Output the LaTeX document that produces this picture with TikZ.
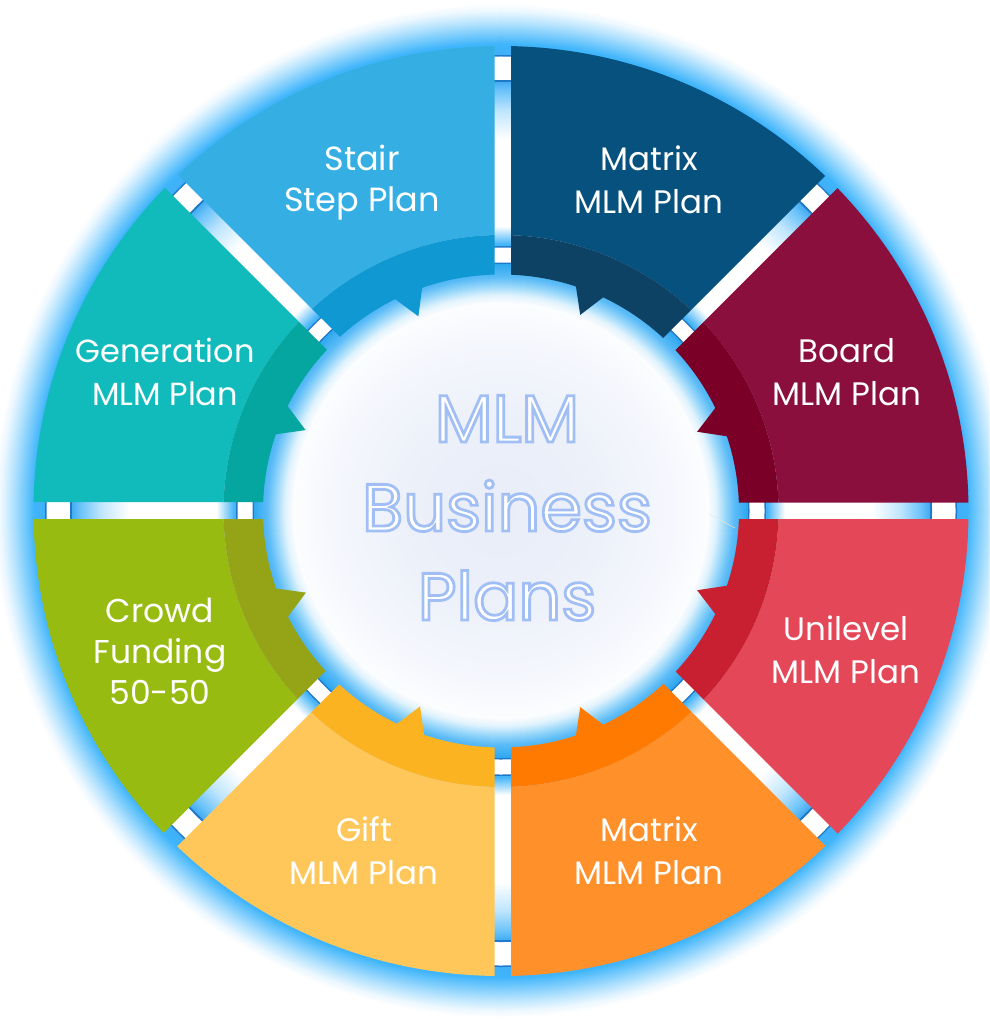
\documentclass[tikz,border=0pt]{standalone}
\usepackage{fontspec}
\setmainfont{Poppins}
\definecolor{gdark}{HTML}{2078C8}
\definecolor{g00}{HTML}{E9EDF8}\definecolor{g01}{HTML}{ECF0F9}\definecolor{g02}{HTML}{F5F7FD}
\definecolor{g03}{HTML}{FCFDFE}\definecolor{g04}{HTML}{E0F3FD}\definecolor{g05}{HTML}{9AD8FA}
\definecolor{g06}{HTML}{5CBCF7}\definecolor{g07}{HTML}{2EA8F0}\definecolor{g08}{HTML}{45B5F8}
\definecolor{g09}{HTML}{45ADF2}\definecolor{g10}{HTML}{6FC4FA}\definecolor{g11}{HTML}{C0E6FD}
\definecolor{g12}{HTML}{40B0F8}\definecolor{g13}{HTML}{3FB5FB}\definecolor{g14}{HTML}{7CCDFC}
\definecolor{g15}{HTML}{BDE6FE}\definecolor{g16}{HTML}{ECF8FF}
% one radial band, painted as discs from the outside in, a pixel at a time
\newcommand{\gradband}[4]{%
  \pgfmathtruncatemacro{\bandn}{max(1,#1-#2)}%
  \foreach \k in {0,...,\bandn}{%
    \pgfmathsetmacro{\bandr}{#1-\k*(#1-#2)/\bandn}%
    \pgfmathsetmacro{\bandp}{100*\k/\bandn}%
    \fill[#4!\bandp!#3] (501,511) circle[radius=\bandr];}}
\newcommand{\flatdisc}[2]{\fill[#2] (501,511) circle[radius=#1];}
\newcommand{\planseg}[4]{% wedge polygon, tooth angle (math), light, dark
  \begin{scope}
    \clip #1;
    \fill[#3,even odd rule] (501,511) ellipse[x radius=467.5,y radius=465] (501,511) ellipse[x radius=277.5,y radius=276];
    \fill[#4,even odd rule] (501,511) ellipse[x radius=277.5,y radius=276] (501,511) ellipse[x radius=238,y radius=236.5];
    \fill[#4,shift={(501,511)}] (-#2-3.7:238) -- (-#2:211.5) -- (-#2+3.7:238) -- (-#2+3.7:245) -- (-#2-3.7:245) -- cycle;
  \end{scope}}
\newcommand{\strokedtext}{\special{pdf:code 2 Tr 2.8 w 0.63 0.75 0.96 RG}}
\newcommand{\plainedtext}{\special{pdf:code 0 Tr}}
\tikzset{
  plantext/.style={text=white,align=center,inner sep=0pt,font=\fontsize{32.5}{43}\selectfont},
  stairtext/.style={text=white,align=center,inner sep=0pt,font=\fontsize{33.5}{41}\selectfont},
  crowdtext/.style={text=white,align=center,inner sep=0pt,font=\fontsize{33}{41}\selectfont},
  gentext/.style={text=white,align=center,inner sep=0pt,font=\fontsize{32}{43}\selectfont},
  titletext/.style={text=white,align=center,inner sep=0pt,font=\fontsize{67}{89}\selectfont}
}
\definecolor{stairL}{HTML}{35AFE3}\definecolor{stairD}{HTML}{0F98D2}
\definecolor{matrixL}{HTML}{07517F}\definecolor{matrixD}{HTML}{0D4264}
\definecolor{boardL}{HTML}{8A0F3C}\definecolor{boardD}{HTML}{7A0028}
\definecolor{uniL}{HTML}{E44858}\definecolor{uniD}{HTML}{C82030}
\definecolor{orangeL}{HTML}{FF902A}\definecolor{orangeD}{HTML}{FF7A00}
\definecolor{giftL}{HTML}{FFC75A}\definecolor{giftD}{HTML}{FCB322}
\definecolor{crowdL}{HTML}{97BB10}\definecolor{crowdD}{HTML}{95A316}
\definecolor{genL}{HTML}{12BBBB}\definecolor{genD}{HTML}{05A5A0}
\begin{document}
\begin{tikzpicture}[x=1pt,y=-1pt]
\useasboundingbox (0,0) rectangle (989,1024);
\fill[white] (0,0) rectangle (989,1024);
\begin{scope}
  \clip (0,0) rectangle (989,1024);
  \gradband{507}{500}{white}{g16}
  \gradband{500}{490}{g16}{g15}
  \gradband{490}{478}{g15}{g14}
  \gradband{478}{467}{g14}{g13}
  \gradband{467}{456}{g13}{g12}
  \flatdisc{456}{gdark}
  \flatdisc{454.5}{white}
  \flatdisc{431}{gdark}
  \gradband{429}{420}{g09}{g10}
  \gradband{420}{400}{g10}{g11}
  \gradband{400}{372}{g11}{white}
  \flatdisc{372}{white}
  \gradband{285}{267}{white}{g08}
  \flatdisc{265}{gdark}
  \flatdisc{263.5}{white}
  \flatdisc{248.5}{gdark}
  \gradband{247}{234}{g07}{g06}
  \gradband{234}{225}{g06}{g05}
  \gradband{225}{216}{g05}{g04}
  \gradband{216}{208}{g04}{g03}
  \gradband{208}{170}{g03}{g02}
  \gradband{170}{90}{g02}{g01}
  \gradband{90}{0}{g01}{g00}
\end{scope}
\draw[draw=green!25!black!12,line width=0.5pt] (709,514) -- (735,528);
\planseg{(511,490)--(511,-100)--(1101,-100)--cycle}{68}{matrixL}{matrixD}
\planseg{(523,502.5)--(1100,502.5)--(1100,-74.5)--cycle}{22}{boardL}{boardD}
\planseg{(523,519)--(1100,519)--(1100,1096)--cycle}{-22}{uniL}{uniD}
\planseg{(511,531.5)--(511,1150)--(1129.5,1150)--cycle}{-68}{orangeL}{orangeD}
\planseg{(494.5,529)--(494.5,1150)--(-126.5,1150)--cycle}{-112.5}{giftL}{giftD}
\planseg{(477.5,519)--(-100,519)--(-100,1096.5)--cycle}{-157.3}{crowdL}{crowdD}
\planseg{(479,502)--(-100,502)--(-100,-77)--cycle}{157.5}{genL}{genD}
\planseg{(494.5,491.5)--(494.5,-100)--(-97,-100)--cycle}{113}{stairL}{stairD}
\node[stairtext] (stair) at (362,183) {Stair\\Step Plan};
\node[plantext] (matrixtop) at (649,179.5) {Matrix\\MLM Plan};
\node[plantext] (board) at (847,372) {Board\\MLM Plan};
\node[plantext] (uni) at (846,649.5) {Unilevel\\MLM Plan};
\node[plantext] (matrixbot) at (649,851) {Matrix\\MLM Plan};
\node[plantext] (gift) at (364,850.5) {Gift\\MLM Plan};
\node[crowdtext] (crowd) at (160,651.5) {Crowd\\Funding\\50-50};
\node[gentext] (gen) at (165,371.5) {Generation\\MLM Plan};
\node[titletext] (title) at (507,508) {\strokedtext MLM\\\strokedtext Business\\\strokedtext Plans\plainedtext};
\end{tikzpicture}
\end{document}
